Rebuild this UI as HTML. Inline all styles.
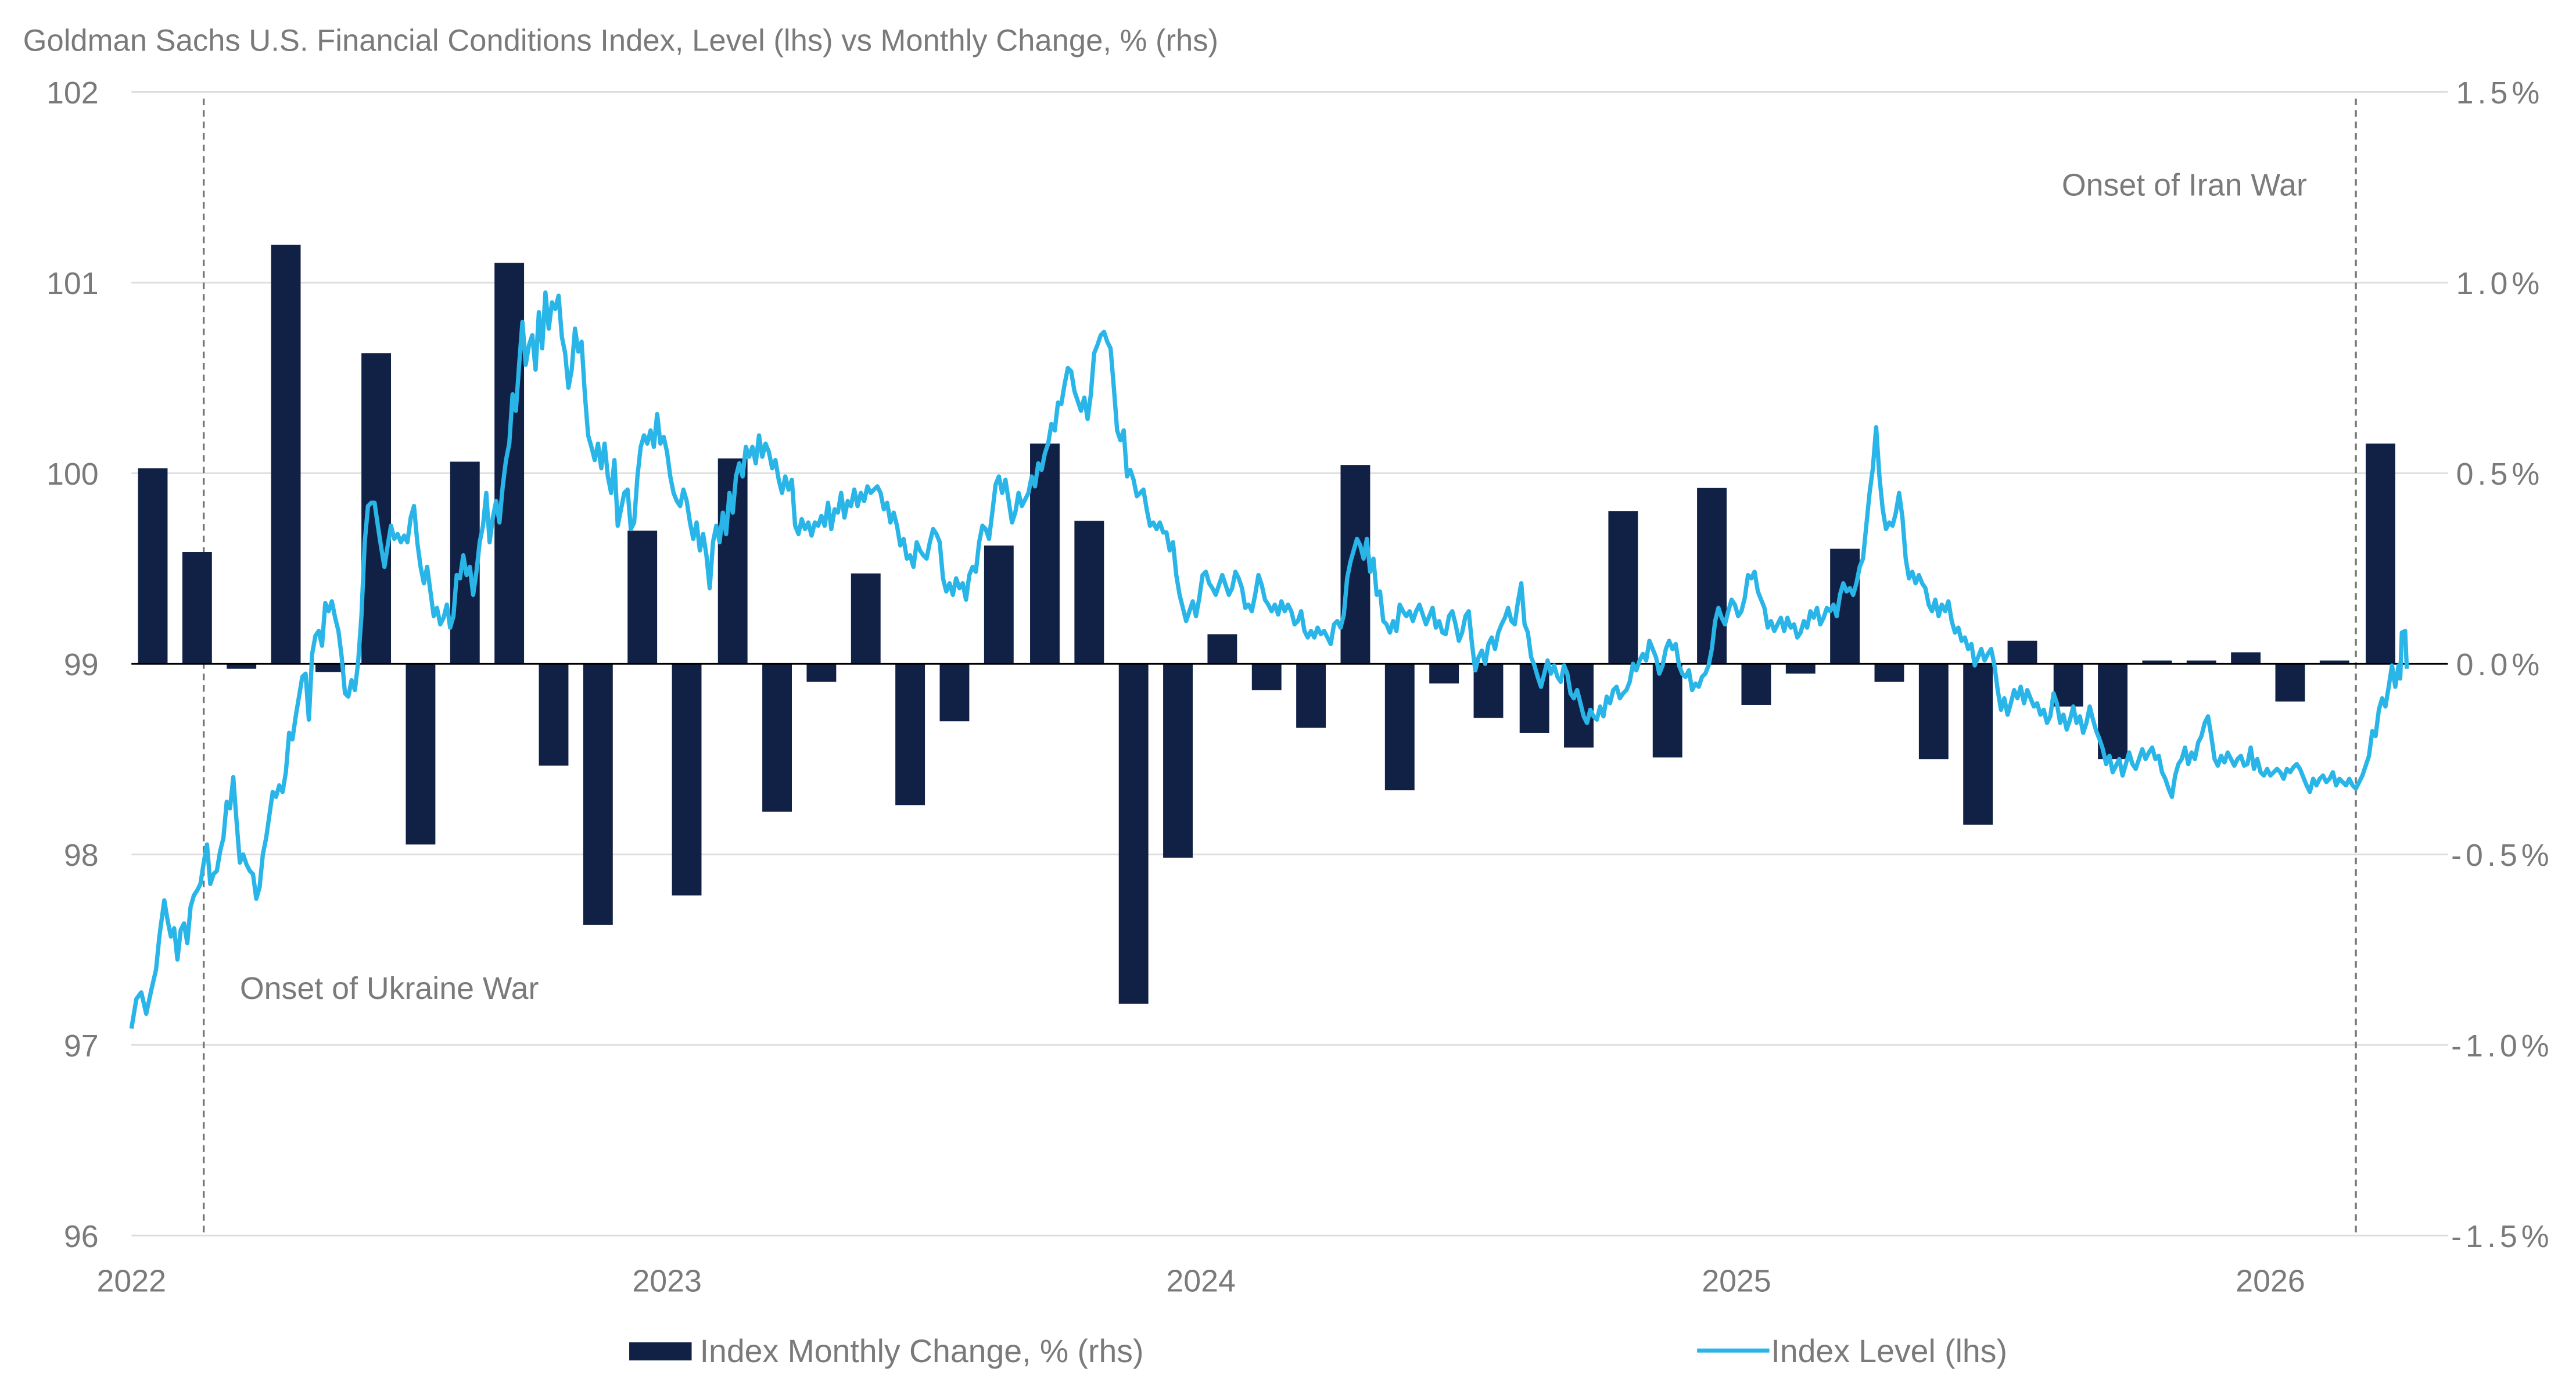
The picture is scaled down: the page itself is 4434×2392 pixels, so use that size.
<!DOCTYPE html>
<html><head><meta charset="utf-8"><style>
html,body{margin:0;padding:0;background:#fff;}
svg{display:block;}
text{font-family:"Liberation Sans",sans-serif;fill:#7a7a7a;}
</style></head><body>
<svg width="4434" height="2392" viewBox="0 0 1568 846" preserveAspectRatio="none" xmlns="http://www.w3.org/2000/svg">
<text x="14" y="31" font-size="18.6">Goldman Sachs U.S. Financial Conditions Index, Level (lhs) vs Monthly Change, % (rhs)</text>
<g stroke="#dddddd" stroke-width="1">
<line x1="80" y1="56" x2="1490" y2="56"/><line x1="80" y1="172" x2="1490" y2="172"/><line x1="80" y1="288" x2="1490" y2="288"/><line x1="80" y1="520" x2="1490" y2="520"/><line x1="80" y1="636" x2="1490" y2="636"/><line x1="80" y1="752" x2="1490" y2="752"/>
</g>
<g font-size="19" text-anchor="end">
<text x="60" y="63">102</text><text x="60" y="179">101</text><text x="60" y="295">100</text><text x="60" y="411">99</text><text x="60" y="527">98</text><text x="60" y="643">97</text><text x="60" y="759">96</text>
</g>
<g font-size="19" letter-spacing="2.5">
<text x="1495" y="63">1.5%</text><text x="1495" y="179">1.0%</text><text x="1495" y="295">0.5%</text><text x="1495" y="411">0.0%</text><text x="1492" y="527">-0.5%</text><text x="1492" y="643">-1.0%</text><text x="1492" y="759">-1.5%</text>
</g>
<g font-size="19" text-anchor="middle">
<text x="80" y="786">2022</text><text x="406" y="786">2023</text><text x="731" y="786">2024</text><text x="1057" y="786">2025</text><text x="1382" y="786">2026</text>
</g>
<g stroke="#777" stroke-width="1.2" stroke-dasharray="4,3">
<line x1="124" y1="60" x2="124" y2="752"/><line x1="1434" y1="60" x2="1434" y2="752"/>
</g>
<g fill="#112146">
<rect x="84" y="285" width="18" height="119"/>
<rect x="111" y="336" width="18" height="68"/>
<rect x="138" y="404" width="18" height="3"/>
<rect x="165" y="149" width="18" height="255"/>
<rect x="192" y="404" width="18" height="5"/>
<rect x="220" y="215" width="18" height="189"/>
<rect x="247" y="404" width="18" height="110"/>
<rect x="274" y="281" width="18" height="123"/>
<rect x="301" y="160" width="18" height="244"/>
<rect x="328" y="404" width="18" height="62"/>
<rect x="355" y="404" width="18" height="159"/>
<rect x="382" y="323" width="18" height="81"/>
<rect x="409" y="404" width="18" height="141"/>
<rect x="437" y="279" width="18" height="125"/>
<rect x="464" y="404" width="18" height="90"/>
<rect x="491" y="404" width="18" height="11"/>
<rect x="518" y="349" width="18" height="55"/>
<rect x="545" y="404" width="18" height="86"/>
<rect x="572" y="404" width="18" height="35"/>
<rect x="599" y="332" width="18" height="72"/>
<rect x="627" y="270" width="18" height="134"/>
<rect x="654" y="317" width="18" height="87"/>
<rect x="681" y="404" width="18" height="207"/>
<rect x="708" y="404" width="18" height="118"/>
<rect x="735" y="386" width="18" height="18"/>
<rect x="762" y="404" width="18" height="16"/>
<rect x="789" y="404" width="18" height="39"/>
<rect x="816" y="283" width="18" height="121"/>
<rect x="843" y="404" width="18" height="77"/>
<rect x="870" y="404" width="18" height="12"/>
<rect x="897" y="404" width="18" height="33"/>
<rect x="925" y="404" width="18" height="42"/>
<rect x="952" y="404" width="18" height="51"/>
<rect x="979" y="311" width="18" height="93"/>
<rect x="1006" y="404" width="18" height="57"/>
<rect x="1033" y="297" width="18" height="107"/>
<rect x="1060" y="404" width="18" height="25"/>
<rect x="1087" y="404" width="18" height="6"/>
<rect x="1114" y="334" width="18" height="70"/>
<rect x="1141" y="404" width="18" height="11"/>
<rect x="1168" y="404" width="18" height="58"/>
<rect x="1195" y="404" width="18" height="98"/>
<rect x="1222" y="390" width="18" height="14"/>
<rect x="1250" y="404" width="18" height="26"/>
<rect x="1277" y="404" width="18" height="58"/>
<rect x="1304" y="402" width="18" height="2"/>
<rect x="1331" y="402" width="18" height="2"/>
<rect x="1358" y="397" width="18" height="7"/>
<rect x="1385" y="404" width="18" height="23"/>
<rect x="1412" y="402" width="18" height="2"/>
<rect x="1440" y="270" width="18" height="134"/>
</g>
<line x1="80" y1="404" x2="1490" y2="404" stroke="#000" stroke-width="1"/>
<polyline fill="none" stroke="#29b5e8" stroke-width="2.6" stroke-linejoin="round" points="80,626 83,608 86,604 89,617 92,603 95,590 97,570 100,548 102,560 104,570 106,565 108,584 110,566 112,562 114,574 116,552 118,545 120,542 122,538 124,525 126,514 128,538 130,532 132,530 134,518 136,510 138,488 140,492 142,473 144,500 146,525 148,520 150,526 152,530 154,532 156,547 158,540 160,520 162,510 164,496 166,482 168,485 170,478 172,482 174,470 176,446 178,450 180,436 182,424 184,412 186,410 188,438 190,398 192,387 194,384 196,393 198,367 200,372 202,366 204,376 206,384 208,400 210,422 212,424 214,414 216,420 218,403 220,375 222,330 224,308 226,306 228,306 230,320 232,333 234,345 236,332 238,320 240,328 242,325 244,330 246,326 248,330 250,315 252,308 254,330 256,345 258,355 260,345 262,360 264,375 266,370 268,380 270,376 272,368 274,382 276,375 278,350 280,352 282,338 284,350 286,345 288,362 290,348 292,330 294,320 296,300 298,330 300,315 302,305 304,318 306,296 308,280 310,270 312,240 314,250 316,222 318,196 320,222 322,210 324,204 326,225 328,190 330,212 332,178 334,200 336,184 338,188 340,180 342,205 344,215 346,236 348,225 350,200 352,214 354,208 356,240 358,265 360,272 362,280 364,270 366,285 368,270 370,290 372,300 374,280 376,320 378,310 380,300 382,298 384,322 386,318 388,290 390,272 392,265 394,270 396,262 398,272 400,252 402,270 404,266 406,275 408,290 410,300 412,305 414,308 416,298 418,305 420,318 422,328 424,318 426,335 428,325 430,338 432,358 434,330 436,320 438,330 440,312 442,325 444,300 446,312 448,290 450,282 452,290 454,272 456,278 458,272 460,282 462,265 464,278 466,270 468,275 470,285 472,280 474,292 476,300 478,290 480,298 482,292 484,320 486,325 488,316 490,322 492,318 494,326 496,318 498,320 500,314 502,320 504,306 506,322 508,310 510,312 512,300 514,315 516,305 518,308 520,298 522,308 524,300 526,305 528,296 530,300 532,298 534,296 536,300 538,310 540,306 542,318 544,312 546,320 548,332 550,328 552,340 554,338 556,345 558,330 560,335 562,338 564,340 566,330 568,322 570,325 572,330 574,352 576,360 578,355 580,362 582,352 584,358 586,355 588,365 590,350 592,345 594,348 596,330 598,320 600,322 602,328 604,312 606,295 608,290 610,300 612,292 614,305 616,318 618,312 620,300 622,308 624,304 626,300 628,290 630,296 632,282 634,286 636,276 638,270 640,258 642,262 644,245 646,246 648,234 650,224 652,226 654,238 656,244 658,250 660,242 662,255 664,240 666,215 668,210 670,204 672,202 674,208 676,212 678,236 680,262 682,268 684,262 686,290 688,286 690,292 692,302 694,300 696,298 698,310 700,320 702,318 704,322 706,318 708,324 710,324 712,335 714,330 716,350 718,362 720,370 722,378 724,372 726,366 728,375 730,364 732,350 734,348 736,355 738,358 740,362 742,356 744,350 746,356 748,362 750,358 752,348 754,352 756,358 758,370 760,368 762,372 764,362 766,350 768,356 770,365 772,368 774,372 776,368 778,374 780,366 782,372 784,368 786,372 788,380 790,378 792,372 794,384 796,388 798,384 800,388 802,382 804,386 806,384 808,388 810,392 812,380 814,378 816,382 818,374 820,352 822,342 824,335 826,328 828,332 830,340 832,328 834,348 836,340 838,362 840,360 842,378 844,380 846,385 848,378 850,384 852,368 854,372 856,375 858,372 860,378 862,372 864,368 866,374 868,380 870,375 872,370 874,382 876,378 878,385 880,386 882,375 884,372 886,380 888,390 890,385 892,375 894,372 896,392 898,408 900,400 902,396 904,404 906,392 908,388 910,395 912,385 914,380 916,376 918,370 920,378 922,380 924,366 926,355 928,380 930,385 932,400 934,405 936,412 938,418 940,410 942,402 944,410 946,405 948,412 950,415 952,405 954,410 956,422 958,425 960,420 962,428 964,436 966,440 968,432 970,436 972,438 974,430 976,436 978,424 980,428 982,420 984,418 986,425 988,422 990,420 992,415 994,404 996,408 998,402 1000,398 1002,402 1004,390 1006,395 1008,400 1010,410 1012,405 1014,395 1016,390 1018,395 1020,392 1022,405 1024,410 1026,412 1028,408 1030,420 1032,416 1034,418 1036,412 1038,410 1040,405 1042,395 1044,378 1046,370 1048,376 1050,380 1052,372 1054,365 1056,368 1058,375 1060,372 1062,364 1064,350 1066,352 1068,348 1070,360 1072,365 1074,370 1076,382 1078,378 1080,384 1082,380 1084,376 1086,384 1088,376 1090,382 1092,380 1094,388 1096,385 1098,378 1100,382 1102,372 1104,376 1106,370 1108,380 1110,376 1112,370 1114,372 1116,368 1118,375 1120,362 1122,355 1124,360 1126,358 1128,362 1130,355 1132,345 1134,340 1136,320 1138,300 1140,285 1142,260 1144,290 1146,310 1148,322 1150,318 1152,320 1154,312 1156,300 1158,315 1160,340 1162,352 1164,348 1166,355 1168,350 1170,355 1172,358 1174,368 1176,372 1178,365 1180,375 1182,368 1184,372 1186,366 1188,378 1190,385 1192,382 1194,390 1196,388 1198,395 1200,392 1202,405 1204,400 1206,395 1208,402 1210,398 1212,395 1214,405 1216,420 1218,432 1220,425 1222,435 1224,428 1226,420 1228,425 1230,418 1232,428 1234,420 1236,425 1238,430 1240,428 1242,435 1244,432 1246,440 1248,436 1250,422 1252,428 1254,440 1256,435 1258,444 1260,438 1262,430 1264,440 1266,436 1268,446 1270,440 1272,430 1274,438 1276,445 1278,450 1280,456 1282,465 1284,460 1286,470 1288,466 1290,462 1292,472 1294,465 1296,458 1298,465 1300,468 1302,462 1304,456 1306,462 1308,458 1310,455 1312,462 1314,460 1316,470 1318,474 1320,480 1322,485 1324,472 1326,465 1328,462 1330,455 1332,465 1334,458 1336,462 1338,452 1340,448 1342,440 1344,436 1346,448 1348,462 1350,466 1352,460 1354,464 1356,458 1358,462 1360,466 1362,462 1364,460 1366,466 1368,465 1370,455 1372,468 1374,462 1376,470 1378,472 1380,468 1382,472 1384,470 1386,468 1388,470 1390,474 1392,468 1394,470 1396,467 1398,465 1400,468 1402,473 1404,478 1406,482 1408,474 1410,478 1412,474 1414,472 1416,476 1418,474 1420,470 1422,478 1424,474 1426,476 1428,478 1430,474 1432,478 1434,480 1436,476 1438,472 1440,466 1442,460 1444,445 1446,448 1448,432 1450,425 1452,430 1454,418 1456,405 1458,418 1460,405 1461,413 1462,385 1464,384 1465,407"/>
<text x="146" y="608" font-size="19">Onset of Ukraine War</text>
<text x="1255" y="119" font-size="19">Onset of Iran War</text>
<rect x="383" y="817" width="38" height="11" fill="#112146"/>
<text x="426" y="829" font-size="19.6">Index Monthly Change, % (rhs)</text>
<line x1="1033" y1="822" x2="1077" y2="822" stroke="#29b5e8" stroke-width="2.5"/>
<text x="1078" y="829" font-size="19.6">Index Level (lhs)</text>
</svg>
</body></html>
